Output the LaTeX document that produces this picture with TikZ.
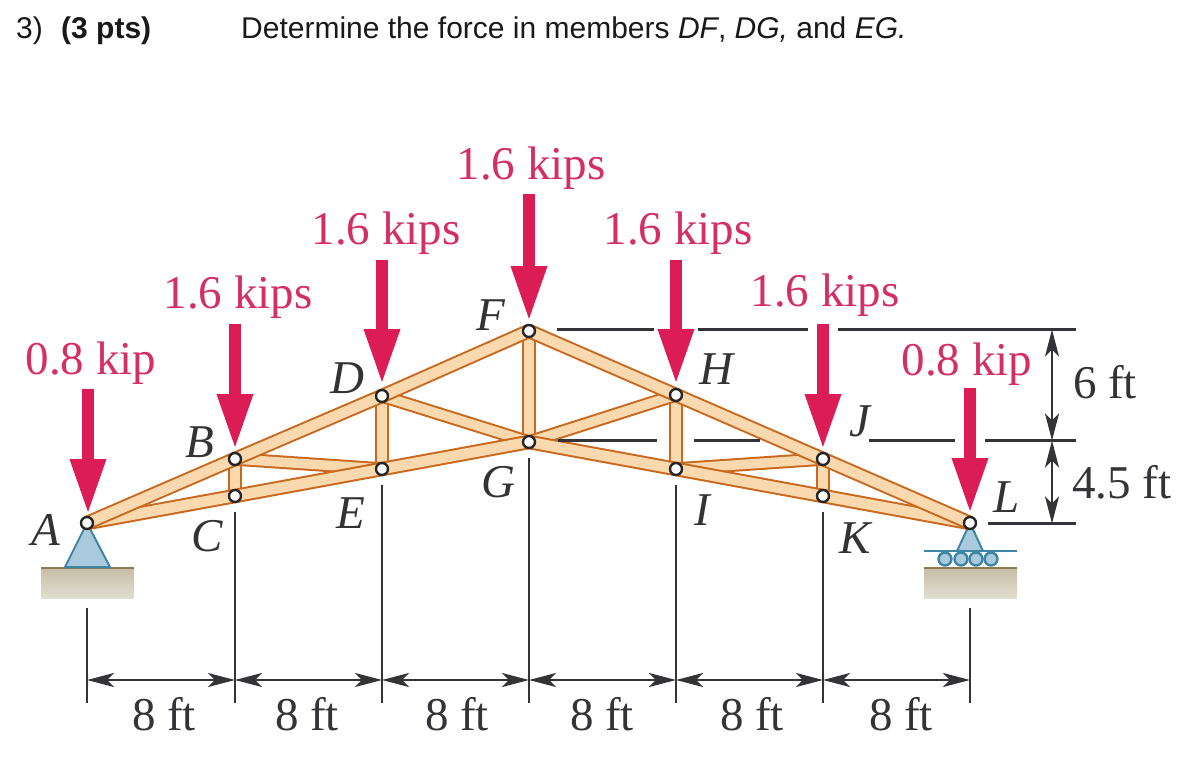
\documentclass[tikz,border=0pt]{standalone}
\usepackage{fontspec}
\setmainfont{Liberation Serif}
\newfontfamily\titlefont{Liberation Sans}
\usetikzlibrary{arrows.meta,backgrounds}
\definecolor{crim}{HTML}{DC1C54}
\definecolor{crimtxt}{HTML}{D42E62}
\definecolor{woodedge}{HTML}{C9691F}
\definecolor{woodfill}{HTML}{FBD9AE}
\definecolor{dimc}{HTML}{333338}
\definecolor{supfill}{HTML}{A9C9DC}
\definecolor{supedge}{HTML}{3F86A4}
\definecolor{groundtop}{HTML}{8C7D55}
\definecolor{groundA}{HTML}{C6BDA5}
\definecolor{groundB}{HTML}{E2DED0}
\tikzset{
  joint/.style={circle,draw=black!85,line width=2.4pt,fill=white,minimum size=12pt,inner sep=0pt},
  member/.style={draw=woodedge,line width=2pt,double=woodfill,double distance=10.5pt},
  webbar/.style={draw=woodedge,line width=2pt,double=woodfill,double distance=9.5pt},
  load/.style={crim,line width=12pt,-{Triangle[length=56pt,width=33pt]}},
  loadtxt/.style={text=crimtxt,font=\fontsize{47}{50}\selectfont,inner sep=0pt},
  dimtxt/.style={text=dimc,font=\fontsize{47}{50}\selectfont,inner sep=0pt},
  jointlbl/.style={text=black!80,font=\fontsize{47}{50}\selectfont\itshape,inner sep=0pt},
  ext/.style={dimc,line width=2.3pt},
  dimarrow/.style={dimc,line width=2pt,{Stealth[length=27pt,width=14pt,inset=7pt]}-{Stealth[length=27pt,width=14pt,inset=7pt]}},
  titletxt/.style={anchor=base west,inner sep=0pt,font=\titlefont\fontsize{30}{32}\selectfont,text=black!90},
  ground/.style={top color=groundA,bottom color=groundB,draw=none},
  support/.style={fill=supfill,draw=supedge,line width=2pt,line join=round},
  roller/.style={circle,fill=supfill,draw=supedge,line width=2.4pt,minimum size=13pt,inner sep=0pt}
}
\begin{document}
\begin{tikzpicture}[x=1pt,y=-1pt]
\useasboundingbox (0,0) rectangle (1186,762);
% title
\node[titletxt] (t1) at (16,39) {3)};
\node[titletxt,font=\titlefont\bfseries\fontsize{30}{32}\selectfont] (t2) at (61,39) {(3 pts)};
\node[titletxt] (t3) at (241,39) {Determine the force in members \textit{DF}, \textit{DG,} and \textit{EG.}};
% joints
\node[joint] (A) at (87,523) {};
\node[joint] (B) at (235,459) {};
\node[joint] (C) at (235,496) {};
\node[joint] (D) at (382,396) {};
\node[joint] (E) at (382,469) {};
\node[joint] (F) at (529,331) {};
\node[joint] (G) at (529,442) {};
\node[joint] (H) at (676,395) {};
\node[joint] (I) at (676,469) {};
\node[joint] (J) at (823,459) {};
\node[joint] (K) at (823,496) {};
\node[joint] (L) at (970,523) {};
\begin{scope}[on background layer]
  % supports
  \fill[ground] (41,568) rectangle (134,598);
  \draw[groundtop,line width=2.4pt] (41,568) -- (134,568);
  \fill[ground] (924,568) rectangle (1017,598);
  \draw[groundtop,line width=2.4pt] (924,568) -- (1017,568);
  \draw[support] (A.center) -- (65,567) -- (110,567) -- cycle;
  \draw[support] (L.center) -- (957,551) -- (983,551) -- cycle;
  \draw[supedge,line width=2pt] (924,551) -- (1017,551);
  \node[roller] (r1) at (945,559) {};
  \node[roller] (r2) at (961,559) {};
  \node[roller] (r3) at (976,559) {};
  \node[roller] (r4) at (991,559) {};
  % web members
  \foreach \a/\b in {B/C,D/E,F/G,H/I,J/K}
    \draw[webbar] (\a.center) -- (\b.center);
  \foreach \a/\b in {B/E,D/G,H/G,J/I}
    \draw[webbar] (\a.center) -- (\b.center);
  % chords
  \draw[member] (A.center) -- (C.center) -- (E.center) -- (G.center);
  \draw[member] (G.center) -- (I.center) -- (K.center) -- (L.center);
  \draw[member] (A.center) -- (B.center) -- (D.center) -- (F.center);
  \draw[member] (F.center) -- (H.center) -- (J.center) -- (L.center);
\end{scope}
% loads
\coordinate (la) at (88,389);  \coordinate (lat) at (88,515);
\coordinate (lb) at (235,324); \coordinate (lbt) at (235,450);
\coordinate (ld) at (382,260); \coordinate (ldt) at (382,385);
\coordinate (lf) at (529,194); \coordinate (lft) at (529,322);
\coordinate (lh) at (676,260); \coordinate (lht) at (676,385);
\coordinate (lj) at (823,324); \coordinate (ljt) at (823,450);
\coordinate (ll) at (970,388); \coordinate (llt) at (970,514);
\foreach \s/\e in {la/lat,lb/lbt,ld/ldt,lf/lft,lh/lht,lj/ljt,ll/llt}
  \draw[load] (\s) -- (\e);
\node[loadtxt] (n1) at (91,363) {0.8 kip};
\node[loadtxt] (n2) at (238,297) {1.6 kips};
\node[loadtxt] (n3) at (386,233) {1.6 kips};
\node[loadtxt] (n4) at (531,168) {1.6 kips};
\node[loadtxt] (n5) at (678,233) {1.6 kips};
\node[loadtxt] (n6) at (825,295) {1.6 kips};
\node[loadtxt] (n7) at (967,364) {0.8 kip};
% joint labels
\node[jointlbl] (lA) at (46,530) {A};
\node[jointlbl] (lB) at (200,442) {B};
\node[jointlbl] (lC) at (207,536) {C};
\node[jointlbl] (lD) at (347,378) {D};
\node[jointlbl] (lE) at (351,513) {E};
\node[jointlbl] (lF) at (491,315) {F};
\node[jointlbl] (lG) at (498,482) {G};
\node[jointlbl] (lH) at (716,369) {H};
\node[jointlbl] (lI) at (702,510) {I};
\node[jointlbl] (lJ) at (860,421) {J};
\node[jointlbl] (lK) at (855,538) {K};
\node[jointlbl] (lL) at (1007,497) {L};
% vertical extension lines
\foreach \n/\x/\t in {0/87/608,1/235/512,2/382/485,3/529/458,4/676/485,5/823/512,6/970/608}{
  \coordinate (vt\n) at (\x,\t);
  \coordinate (vb\n) at (\x,703);
  \coordinate (vd\n) at (\x,680);
  \draw[ext] (vt\n) -- (vb\n);
}
\foreach \a/\b in {0/1,1/2,2/3,3/4,4/5,5/6}
  \draw[dimarrow] (vd\a) -- (vd\b);
\node[dimtxt] (d1) at (164,714) {8 ft};
\node[dimtxt] (d2) at (307,714) {8 ft};
\node[dimtxt] (d3) at (457,714) {8 ft};
\node[dimtxt] (d4) at (602,714) {8 ft};
\node[dimtxt] (d5) at (752,714) {8 ft};
\node[dimtxt] (d6) at (901,714) {8 ft};
% horizontal extension lines
\foreach \p/\q in {557/654,698/808,838/1076}
  \draw[ext] (\p,329.5) -- (\q,329.5);
\foreach \p/\q in {558/657,694/760,869/955,985/1076}
  \draw[ext] (\p,440.5) -- (\q,440.5);
\draw[ext] (988,523.5) -- (1076,523.5);
\coordinate (h1) at (1052,329.5);
\coordinate (h2) at (1052,440.5);
\coordinate (h3) at (1052,523.5);
\draw[dimarrow] (h1) -- (h2);
\draw[dimarrow] (h2) -- (h3);
\node[dimtxt] (d7) at (1105,382) {6 ft};
\node[dimtxt] (d8) at (1122,482) {4.5 ft};
\end{tikzpicture}
\end{document}
